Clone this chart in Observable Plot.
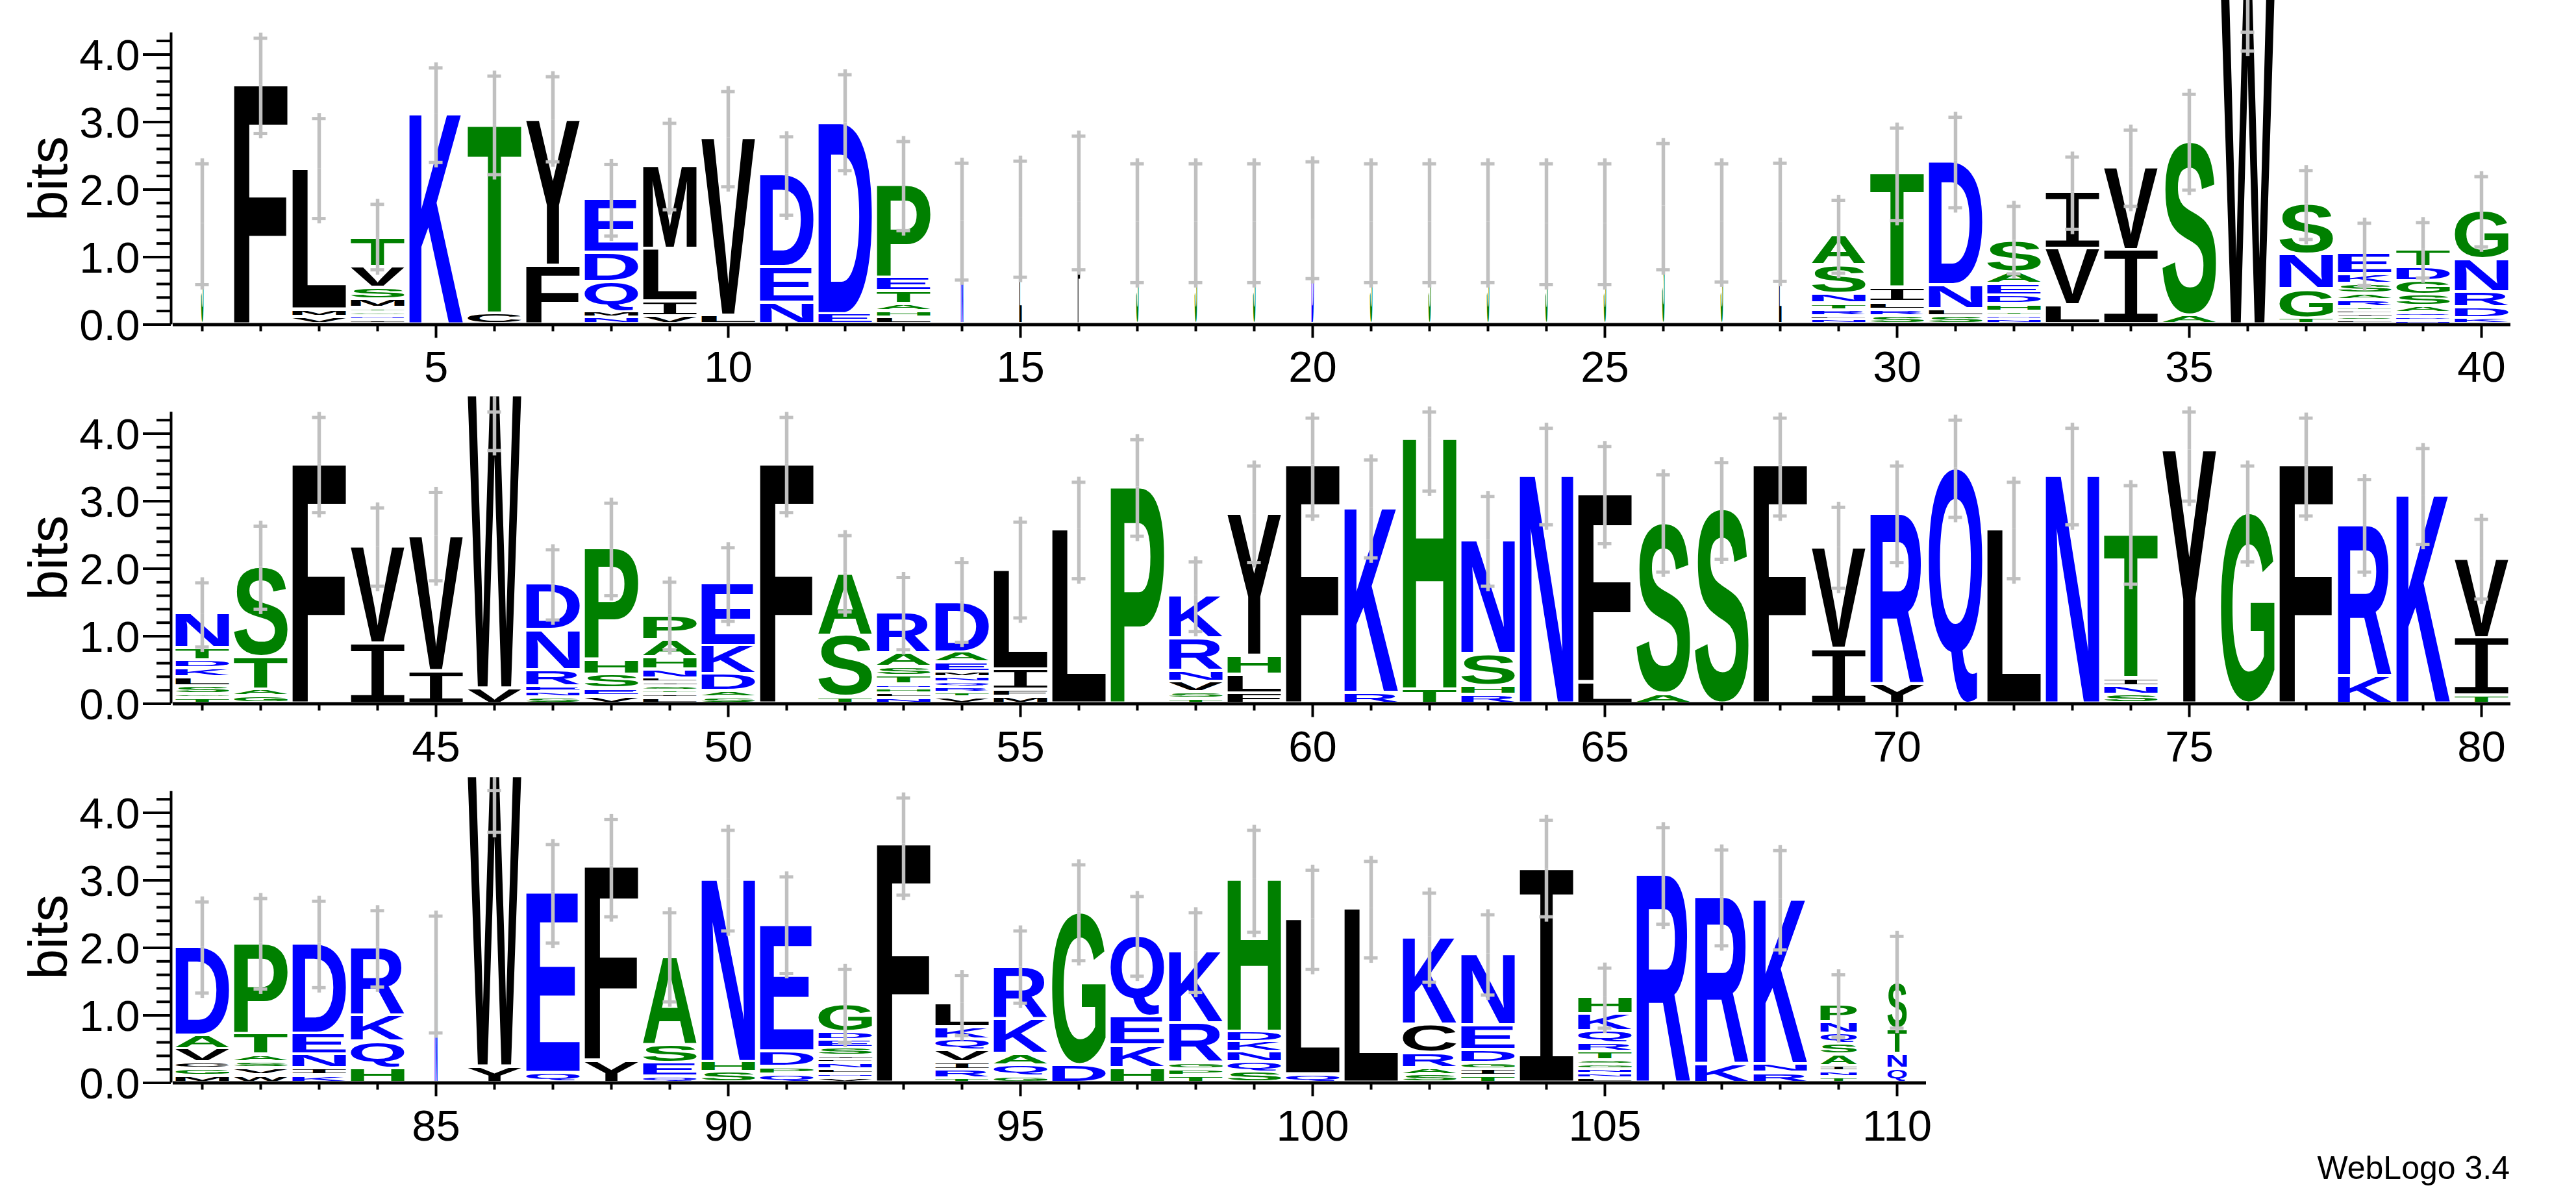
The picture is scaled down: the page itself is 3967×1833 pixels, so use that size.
<!DOCTYPE html>
<html>
<head>
<meta charset="utf-8">
<script src="https://cdn.jsdelivr.net/npm/d3@7"></script>
<script src="https://cdn.jsdelivr.net/npm/@observablehq/plot@0.6"></script>
<style>
html,body{margin:0;padding:0;background:#fff}
#page{position:relative;width:3967px;height:1833px;overflow:hidden;background:#fff}
#page svg{position:absolute;left:0;overflow:hidden;max-width:none;background:#fff}
#credit{position:absolute;right:102px;top:1774px;font:50px/50px "Liberation Sans",Arial,sans-serif;color:#000}
</style>
</head>
<body>
<div id="page"><div id="credit">WebLogo 3.4</div></div>
<script>
// Letters of each stack, bottom to top, and their heights in bits.
const letters1 = ["S","F","VML","INGTMSVT","K","CT","FY","NMQDE","VILM","LV","NED","ED","LHATEP","N","L","F","S","S","S","D","S","S","S","S","S","S","S","L","NLRTNSA","SRLIT","SLND","NNTHDEAS","LVI","IV","AS","W","TGNS","LSILTRASKE","NDQASGDT","KDRNG"];
const heights1 = [[1.5],[3.55],[.12,.11,2.08],[.07,.06,.06,.06,.13,.17,.31,.42],[3.12],[.17,2.78],[.88,2.16],[.11,.09,.44,.43,.79],[.13,.22,.78,1.22],[.14,2.63],[.33,.53,1.37],[.16,2.83],[.11,.10,.10,.19,.20,1.37],[1.54],[1.58],[1.82],[1.52],[1.52],[1.52],[1.56],[1.52],[1.52],[1.52],[1.5],[1.5],[1.76],[1.53],[1.53],[.08,.05,.09,.10,.14,.43,.44],[.13,.10,.11,.21,1.69],[.13,.11,.35,1.83],[.08,.06,.06,.11,.13,.17,.17,.47],[.29,.84,.84],[1.11,1.22],[.14,2.57],[4.85],[.10,.43,.51,.75],[.07,.05,.04,.05,.05,.11,.095,.145,.14,.31],[.065,.055,.055,.105,.165,.205,.21,.255],[.10,.16,.23,.49,.715]];
const errHigh1 = [2.38,4.24,3.05,1.78,3.80,3.68,3.67,2.37,2.98,3.45,2.78,3.70,2.71,2.39,2.42,2.79,2.38,2.38,2.38,2.41,2.38,2.38,2.38,2.38,2.38,2.68,2.38,2.39,1.84,2.91,3.07,1.75,2.48,2.88,3.41,4.33,2.28,1.50,1.51,2.19];
const errLow1 = [.59,2.83,1.57,.81,2.40,2.22,2.41,1.31,1.70,2.04,1.62,2.28,1.39,.66,.70,.81,.62,.62,.62,.68,.62,.62,.62,.59,.59,.81,.63,.64,.76,1.54,1.73,.75,1.41,1.75,1.99,4.05,1.26,.58,.69,1.15];

const letters2 = ["TGSLKDTN","GATS","F","IV","IV","VW","SNERND","VESHP","LITSILNHAP","SADKE","F","TSA","NLHNTSAR","VTRQNMEAD","MFIL","L","P","TSVNRK","FLHY","F","RK","TH","RHSN","N","LF","AS","S","F","IV","YR","Q","L","N","SNIT","Y","G","F","KR","K","TIV"];
const heights2 = [[.09,.06,.12,.13,.13,.12,.18,.51],[.12,.10,.48,1.33],[3.55],[.90,1.43],[.49,2.0],[.235,4.34],[.10,.08,.09,.24,.59,.68],[.12,.11,.21,.22,1.64],[.09,.06,.05,.07,.05,.065,.13,.18,.25,.37],[.10,.095,.25,.42,.93],[3.55],[.105,.915,.92],[.09,.07,.07,.06,.13,.13,.21,.60],[.10,.07,.08,.07,.08,.08,.14,.15,.75],[.115,.10,.30,1.47],[2.59],[3.21],[.08,.10,.155,.16,.48,.63],[.16,.28,.28,2.10],[3.54],[.17,2.73],[.22,3.71],[.14,.13,.48,1.675],[3.38],[.33,2.78],[.155,2.525],[2.89],[3.54],[.82,1.50],[.30,2.52],[3.49],[2.59],[3.38],[.14,.13,.12,2.12],[3.76],[2.83],[3.54],[.42,2.23],[3.09],[.13,.85,1.17]];
const errHigh2 = [1.79,2.63,4.24,2.90,3.13,4.32,2.28,2.97,1.80,2.31,4.24,2.49,1.87,2.09,2.69,3.28,3.91,2.10,3.52,4.23,3.61,4.32,3.07,4.08,3.81,3.39,3.57,4.23,2.91,3.52,4.20,3.28,4.08,3.23,4.32,3.52,4.23,3.32,3.78,2.73];
const errLow2 = [.84,1.40,2.83,1.74,1.82,3.75,1.24,1.60,.80,1.22,2.83,1.36,.80,.91,1.27,1.85,2.48,1.07,2.09,2.78,2.16,3.15,1.74,2.65,2.37,1.95,2.14,2.78,1.71,2.09,2.76,1.85,2.65,1.77,3.0,2.10,2.78,1.95,2.36,1.55];

const letters3 = ["MGCVAD","WVSATP","KINED","HQKR","N","YW","QE","YF","QESA","SHN","QPDE","VNLNLISEDG","F","TRIVQKL","GQAKR","DG","HKEQ","TPGRK","SQNKDH","QL","L","SARCK","TIGDEN","I","LNNGSTRQKH","R","KR","RNK","TNIASQNP","QNTS"];
const heights3 = [[.11,.11,.09,.20,.20,1.31],[.12,.105,.09,.11,.31,1.34],[.12,.105,.20,.31,1.34],[.22,.40,.39,1.0],[1.63],[.25,4.30],[.155,2.67],[.34,2.87],[.10,.20,.27,1.30],[.165,.15,2.70],[.135,.11,.23,1.87],[.08,.06,.07,.09,.06,.05,.115,.115,.12,.41],[3.54],[.075,.125,.11,.175,.165,.18,.35],[.10,.17,.17,.51,.77],[.27,2.26],[.23,.33,.43,1.19],[.11,.10,.10,.58,1.06],[.165,.15,.15,.15,.15,2.25],[.135,2.30],[2.59],[.125,.105,.22,.425,1.285],[.11,.10,.095,.19,.37,1.05],[3.17],[.075,.065,.065,.065,.07,.125,.125,.185,.25,.25],[3.09],[.29,2.47],[.155,.13,2.435],[.095,.085,.08,.17,.16,.15,.17,.25],[.22,.22,.36,.69]];
const errHigh3 = [2.68,2.73,2.69,2.55,2.47,4.33,3.53,3.90,2.52,3.74,3.05,1.68,4.22,1.59,2.25,3.23,2.76,2.52,3.74,3.15,3.28,2.81,2.49,3.89,1.70,3.78,3.45,3.44,1.60,2.17];
const errLow3 = [1.33,1.39,1.41,1.42,.74,3.71,2.07,2.46,1.20,2.25,1.62,.60,2.78,.70,1.18,1.81,1.58,1.34,2.23,1.68,1.85,1.49,1.30,2.46,.81,2.35,2.03,1.97,.67,.81];

// Fraction of sequences covering a position (scales the stack width).
const coverage = {1:.045,14:.045,15:.045,16:.045,17:.045,18:.045,19:.045,20:.045,21:.045,22:.045,23:.045,24:.045,25:.045,26:.045,27:.045,28:.045,85:.05,109:.68,110:.36};
const greenLetters = "AGSTHP";
const blueLetters = "DEKNQR";
const yMajor = [0,1,2,3,4];
const yMinor = [.2,.4,.6,.8,1.2,1.4,1.6,1.8,2.2,2.4,2.6,2.8,3.2,3.4,3.6,3.8,4.2];
const BITS_MAX = 4.32;
const W_TICK = 5;

const colorOf = c => greenLetters.includes(c) ? "#008000" : blueLetters.includes(c) ? "#0000ff" : "#000000";
// The reference's "I" has slab serifs and a thin stem: a regular-weight monospace glyph gives that shape.
const fontOf = c => c === "I" ? "Liberation Mono" : "Liberation Sans";
const weightOf = c => c === "I" ? "normal" : "bold";

const SCAN = 500, SCAN_X = 150, SCAN_Y = 600;
const canvas = document.createElement("canvas");
canvas.width = 1000; canvas.height = 800;
const ctx = canvas.getContext("2d", {willReadFrequently: true});
const metrics = {};
// Glyph ink box for a 100px font, found by scanning the pixels of the drawn glyph.
function inkBox(c) {
  if (!metrics[c]) {
    ctx.clearRect(0, 0, canvas.width, canvas.height);
    ctx.font = `${weightOf(c)} ${SCAN}px "${fontOf(c)}"`;
    ctx.fillStyle = "#000";
    ctx.fillText(c, SCAN_X, SCAN_Y);
    const px = ctx.getImageData(0, 0, canvas.width, canvas.height).data;
    let x0 = Infinity, x1 = -Infinity, y0 = Infinity, y1 = -Infinity;
    for (let y = 0; y < canvas.height; y++) for (let x = 0; x < canvas.width; x++) {
      if (px[(y * canvas.width + x) * 4 + 3] > 127) {
        if (x < x0) x0 = x; if (x > x1) x1 = x; if (y < y0) y0 = y; if (y > y1) y1 = y;
      }
    }
    const k = 100 / SCAN;
    metrics[c] = {l: (SCAN_X - x0) * k, r: (x1 + 1 - SCAN_X) * k, a: (SCAN_Y - y0) * k, d: (y1 + 1 - SCAN_Y) * k};
  }
  return metrics[c];
}

function stackRows(first, letters, heights) {
  const rows = [];
  letters.forEach((s, i) => {
    let base = 0;
    [...s].forEach((c, j) => {
      rows.push({pos: first + i, letter: c, base, top: base + heights[i][j], bottom: j === 0});
      base += heights[i][j];
    });
  });
  return rows;
}

const PAD = 2.4, BASE_PAD = 3.4, STACK_WIDTH = 82 / 90;

function glyphRender(rows) {
  return function (index, scales, values, dimensions, context, next) {
    const g = next(index, scales, values, dimensions, context);
    const texts = g.querySelectorAll("text");
    texts.forEach((t, k) => {
      const d = rows[index[k]];
      const box = inkBox(d.letter);
      const half = STACK_WIDTH * (coverage[d.pos] ?? 1) / 2;
      const x0 = scales.x(d.pos - half), x1 = scales.x(d.pos + half);
      let yBot = scales.y(d.base) - (d.bottom ? BASE_PAD : PAD);
      let yTop = scales.y(d.top) + PAD;
      if (yBot - yTop < 1.2) { const m = (yBot + yTop) / 2; yBot = m + .6; yTop = m - .6; }
      const sx = (x1 - x0) / (box.l + box.r), sy = (yBot - yTop) / (box.a + box.d);
      t.removeAttribute("x"); t.removeAttribute("y"); t.removeAttribute("dy");
      t.setAttribute("font-family", fontOf(d.letter));
      t.setAttribute("font-weight", weightOf(d.letter));
      t.setAttribute("transform", `translate(${x0 + box.l * sx},${yBot - box.d * sy}) scale(${sx},${sy})`);
    });
    return g;
  };
}

function logoRow({first, letters, heights, high, low, top, height, marginTop}) {
  const last = first + letters.length - 1;
  const positions = d3.range(first, last + 1);
  const rows = stackRows(first, letters, heights);
  const errs = positions.map((pos, i) => ({pos, hi: high[i], lo: low[i], mid: d3.sum(heights[i])}));
  const majors = positions.filter(p => p % W_TICK === 0);
  const minors = positions.filter(p => p % W_TICK !== 0);
  const CAP = .117, GREY = "#c0c0c0";
  const plot = Plot.plot({
    width: 3967,
    height,
    marginLeft: 266,
    marginRight: 3967 - 266 - 90 * letters.length,
    marginTop,
    marginBottom: height - marginTop - 104 * BITS_MAX,
    style: {fontFamily: '"Liberation Sans"', background: "#fff", top: top + "px"},
    x: {domain: [first - .5, last + .5], axis: null},
    y: {domain: [0, BITS_MAX], axis: null},
    marks: [
      Plot.text(rows, {
        x: "pos", y: "top", text: "letter", fill: d => colorOf(d.letter),
        fontSize: 100, textAnchor: "start", lineAnchor: "bottom",
        render: glyphRender(rows)
      }),
      Plot.axisX({ticks: minors, tickSize: 11, strokeWidth: 4, tickFormat: () => "", label: null}),
      Plot.axisX({ticks: majors, tickSize: 21, tickPadding: 20, strokeWidth: 4, fontSize: 67, tickFormat: d => String(d), label: null}),
      Plot.axisY({ticks: yMinor, tickSize: 22, strokeWidth: 4, dx: -3, tickFormat: () => "", label: null}),
      Plot.axisY({ticks: yMajor, tickSize: 43, strokeWidth: 4, dx: -3, tickFormat: () => "", label: null}),
      Plot.axisY({ticks: yMajor, tickSize: 0, tickPadding: 48, dx: -3, dy: 3, fontSize: 67, tickFormat: d => d.toFixed(1), label: null}),
      Plot.ruleX([first - .5], {dx: -3, strokeWidth: 4}),
      Plot.ruleY([0], {strokeWidth: 5}),
      Plot.text(["bits"], {frameAnchor: "left", textAnchor: "middle", rotate: -90, dx: -164, lineAnchor: "bottom", fontSize: 84}),
      Plot.ruleX(errs.filter(d => d.hi > d.mid), {x: "pos", y1: "mid", y2: "hi", stroke: GREY, strokeWidth: 5.5, insetBottom: 8}),
      Plot.ruleX(errs, {x: "pos", y1: "lo", y2: "mid", stroke: GREY, strokeWidth: 5.5, insetTop: 8}),
      Plot.ruleY(errs, {y: "hi", x1: d => d.pos - CAP, x2: d => d.pos + CAP, stroke: GREY, strokeWidth: 5}),
      Plot.ruleY(errs, {y: "lo", x1: d => d.pos - CAP, x2: d => d.pos + CAP, stroke: GREY, strokeWidth: 5})
    ]
  });
  plot.style.top = top + "px";
  document.getElementById("page").appendChild(plot);
}

logoRow({first: 1, letters: letters1, heights: heights1, high: errHigh1, low: errLow1, top: 0, height: 600, marginTop: 50.1});
logoRow({first: 41, letters: letters2, heights: heights2, high: errHigh2, low: errLow2, top: 610, height: 574, marginTop: 24.2});
logoRow({first: 81, letters: letters3, heights: heights3, high: errHigh3, low: errLow3, top: 1197, height: 571, marginTop: 21.2});
</script>
</body>
</html>
